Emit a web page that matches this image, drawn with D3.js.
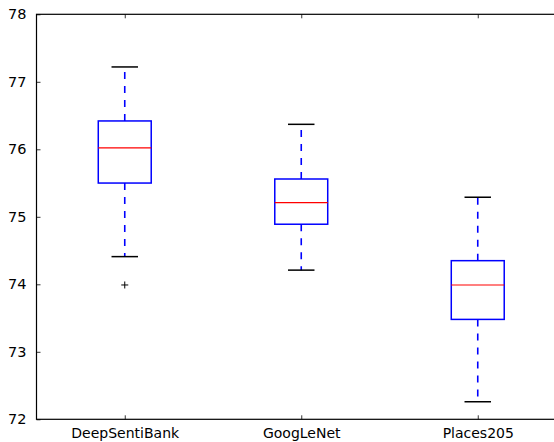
<!DOCTYPE html>
<html><head><meta charset="utf-8">
<script src="https://cdn.jsdelivr.net/npm/d3@7"></script>
<style>body{margin:0;background:#fff;} svg{display:block;}</style>
</head><body>
<svg id="c" width="554" height="442"></svg>
<script>
const categories = ["DeepSentiBank", "GoogLeNet", "Places205"];
const whiskerLow = [74.41, 74.21, 72.26];
const q1 = [75.50, 74.89, 73.48];
const median = [76.02, 75.21, 73.99];
const q3 = [76.42, 75.56, 74.35];
const whiskerHigh = [77.22, 76.37, 75.29];
const outliers = [[73.99], [], []];
const yTicks = [72, 73, 74, 75, 76, 77, 78];

const svg = d3.select("#c");
const m = {left: 36.5, top: 14.3, right: 566, bottom: 419.3};
const x = d3.scaleLinear().domain([0.5, 3.5]).range([m.left, m.right]);
const y = d3.scaleLinear().domain([72, 78]).range([m.bottom, m.top]);
const font = "'DejaVu Sans', sans-serif";

const g = svg.append("g");
const boxW = 0.3, capW = 0.15;

categories.forEach((c, i) => {
  const cx = x(i + 1);
  const bl = x(i + 1 - boxW / 2), br = x(i + 1 + boxW / 2);
  const cl = x(i + 1 - capW / 2), cr = x(i + 1 + capW / 2);
  // whiskers
  [[q3[i], whiskerHigh[i]], [q1[i], whiskerLow[i]]].forEach(([a, b]) => {
    g.append("line").attr("x1", cx).attr("x2", cx).attr("y1", y(a)).attr("y2", y(b))
      .attr("stroke", "#0000ff").attr("stroke-width", 1.6).attr("stroke-dasharray", "7,7");
  });
  // caps
  [whiskerHigh[i], whiskerLow[i]].forEach(v => {
    g.append("line").attr("x1", cl).attr("x2", cr).attr("y1", y(v)).attr("y2", y(v))
      .attr("stroke", "#000").attr("stroke-width", 1.5);
  });
  // box
  g.append("rect").attr("x", bl).attr("y", y(q3[i])).attr("width", br - bl).attr("height", y(q1[i]) - y(q3[i]))
    .attr("fill", "none").attr("stroke", "#0000ff").attr("stroke-width", 1.5);
  // median
  g.append("line").attr("x1", bl).attr("x2", br).attr("y1", y(median[i])).attr("y2", y(median[i]))
    .attr("stroke", "#ff0000").attr("stroke-width", 1.2);
  // outliers
  outliers[i].forEach(v => {
    g.append("path").attr("d", `M${cx-3.5},${y(v)}H${cx+3.5}M${cx},${y(v)-3.5}V${y(v)+3.5}`)
      .attr("stroke", "#000").attr("stroke-width", 1);
  });
});

// frame
svg.append("rect").attr("x", m.left).attr("y", m.top).attr("width", m.right - m.left).attr("height", m.bottom - m.top)
  .attr("fill", "none").attr("stroke", "#000").attr("stroke-width", 1.2);

// y axis (inward ticks)
const ya = svg.append("g").attr("transform", `translate(${m.left},0)`)
  .call(d3.axisLeft(y).tickValues(yTicks).tickFormat(d3.format("d")).tickSizeInner(-4).tickSizeOuter(0).tickPadding(10));
ya.select(".domain").remove();
ya.selectAll("line").attr("stroke", "#000").attr("stroke-width", 0.8);
ya.selectAll("text").attr("font-family", font).attr("font-size", 14.5).attr("fill", "#000");

// x axis bottom
const xa = svg.append("g").attr("transform", `translate(0,${m.bottom})`)
  .call(d3.axisBottom(x).tickValues([1, 2, 3]).tickFormat((d) => categories[d - 1]).tickSizeInner(-4).tickSizeOuter(0).tickPadding(9));
xa.select(".domain").remove();
xa.selectAll("line").attr("stroke", "#000").attr("stroke-width", 0.8);
xa.selectAll("text").attr("font-family", font).attr("font-size", 14).attr("fill", "#000");

// top ticks
const xt = svg.append("g").attr("transform", `translate(0,${m.top})`)
  .call(d3.axisTop(x).tickValues([1, 2, 3]).tickFormat("").tickSizeInner(-4).tickSizeOuter(0));
xt.select(".domain").remove();
xt.selectAll("line").attr("stroke", "#000").attr("stroke-width", 0.8);
</script>
</body></html>
